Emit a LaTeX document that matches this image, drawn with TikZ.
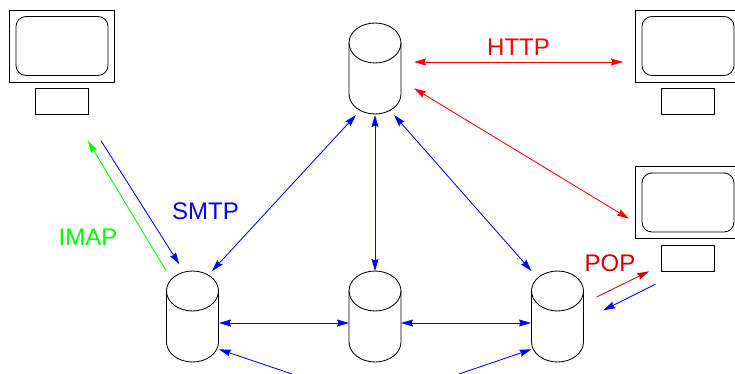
\documentclass[tikz,border=0pt]{standalone}
\usepackage{fontspec}
\setmainfont{Liberation Sans}
\usetikzlibrary{arrows.meta}
\definecolor{popred}{RGB}{208,0,0}
\tikzset{
  x=1pt,y=-1pt,
  shapeline/.style={draw=black,line width=0.85pt},
  conn/.style={line width=0.85pt,{Stealth[length=12pt,width=7pt,inset=1.5pt]}-{Stealth[length=12pt,width=7pt,inset=1.5pt]}},
  oneway/.style={line width=0.85pt,-{Stealth[length=12pt,width=7pt,inset=1.5pt]}},
  lab/.style={anchor=base,inner sep=0pt,font=\fontsize{24}{26}\selectfont},
  cyl/.pic={
    \draw[shapeline] (0,0) ellipse[x radius=26pt,y radius=20pt];
    \draw[shapeline] (-26,0) -- (-26,51) arc[start angle=180,end angle=360,x radius=26pt,y radius=20pt] -- (26,0);
  },
  monitor/.pic={
    \draw[shapeline] (0,0) rectangle (104.5,72);
    \draw[shapeline,rounded corners=10pt] (6.5,6.5) rectangle (98.5,65.5);
    \draw[shapeline] (26,78.5) rectangle (78.5,104.5);
  }
}
\begin{document}
\begin{tikzpicture}
\useasboundingbox (0,0) rectangle (735,374);
\clip (0,0) rectangle (735,374);
% monitors
\pic (mLeft) at (9.5,10) {monitor};
\pic (mTop) at (635.5,10) {monitor};
\pic (mLow) at (635.5,166.5) {monitor};
% cylinders
\pic (cTop) at (375,43) {cyl};
\pic (cLeft) at (192.5,291) {cyl};
\pic (cMid) at (375,291) {cyl};
\pic (cRight) at (557.5,291) {cyl};
% connector ends
\coordinate (httpA) at (414,62);
\coordinate (httpB) at (623,62);
\coordinate (webA) at (414,88.3);
\coordinate (webB) at (629,218.7);
\coordinate (topL) at (356,115);
\coordinate (topM) at (375,115);
\coordinate (topR) at (394,115);
\coordinate (leftT) at (212,271);
\coordinate (midT) at (375,271);
\coordinate (rightT) at (531.5,271);
\coordinate (leftR) at (219,323);
\coordinate (midL) at (349,323);
\coordinate (midR) at (401,323);
\coordinate (rightL) at (531,323);
\coordinate (smtpS) at (101,140.7);
\coordinate (smtpE) at (179.3,264.3);
\coordinate (imapS) at (166.3,271);
\coordinate (imapE) at (88,141);
\coordinate (botLT) at (219,349.3);
\coordinate (botLS) at (292,374);
\coordinate (botRT) at (531.5,349.3);
\coordinate (botRS) at (459,374);
\coordinate (popS) at (596.7,297);
\coordinate (popE) at (649,271.3);
\coordinate (bluS) at (655.3,284.3);
\coordinate (bluE) at (603.3,310.3);
% connectors
\draw[conn,red] (httpA) -- (httpB);
\draw[conn,red] (webA) -- (webB);
\draw[conn,blue] (topL) -- (leftT);
\draw[conn,blue] (topM) -- (midT);
\draw[conn,blue] (topR) -- (rightT);
\draw[conn,blue] (leftR) -- (midL);
\draw[conn,blue] (midR) -- (rightL);
\draw[oneway,blue] (smtpS) -- (smtpE);
\draw[oneway,green] (imapS) -- (imapE);
\draw[oneway,blue] (botLS) -- (botLT);
\draw[oneway,blue] (botRS) -- (botRT);
\draw[oneway,popred] (popS) -- (popE);
\draw[oneway,blue] (bluS) -- (bluE);
% labels
\node[lab,text=red] (lHttp) at (518.5,56) {HTTP};
\node[lab,text=blue] (lSmtp) at (205.5,219) {SMTP};
\node[lab,text=green] (lImap) at (88,245) {IMAP};
\node[lab,text=popred] (lPop) at (610,271) {POP};
\end{tikzpicture}
\end{document}
